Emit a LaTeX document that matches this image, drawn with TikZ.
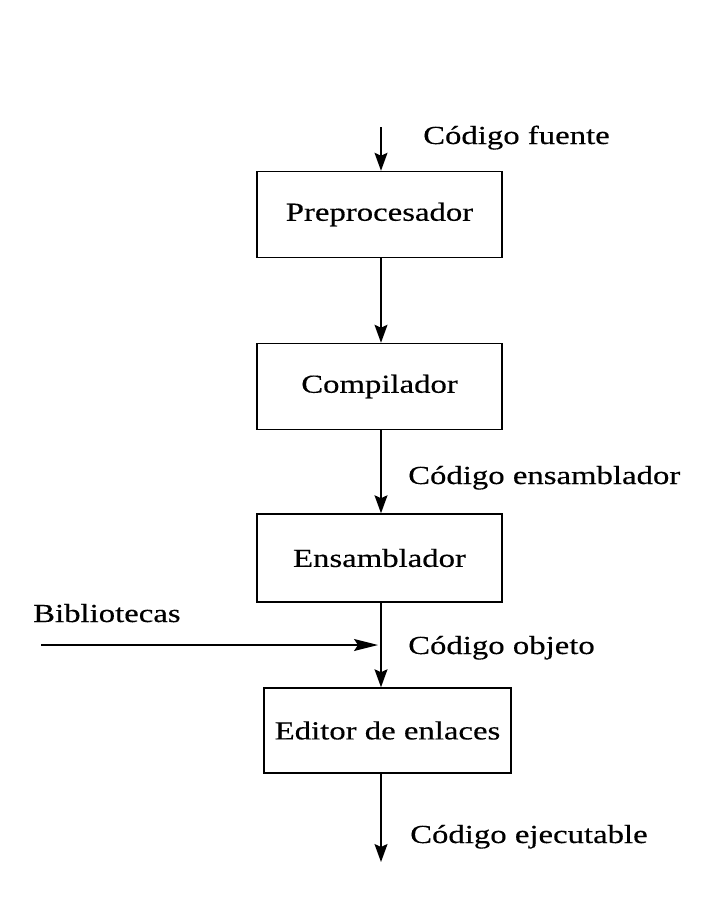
\documentclass[tikz,border=0pt]{standalone}
\usepackage{fontspec}
\setmainfont[FakeStretch=1.26,FakeBold=0.4]{Liberation Serif}
\usetikzlibrary{arrows.meta}
\begin{document}
\begin{tikzpicture}[x=1pt,y=-1pt,
  stagebox/.style={draw=black,line width=1.5pt,minimum width=245pt,minimum height=86pt,inner sep=0pt,font=\fontsize{26}{31}\selectfont},
  lbl/.style={anchor=base west,inner sep=0pt,font=\fontsize{26}{31}\selectfont},
  arr/.style={line width=1.5pt,-{Stealth[length=18pt,width=13pt,inset=3pt]}},
  harr/.style={line width=1.5pt,-{Stealth[length=24pt,width=12pt,inset=4pt]}}]
\useasboundingbox[fill=white] (0,0) rectangle (718,910);
\node[stagebox] (pre) at (379.5,214.5) {Preprocesador};
\node[stagebox] (comp) at (379.5,386.5) {Compilador};
\node[stagebox,minimum height=88pt] (ens) at (379.5,558) {Ensamblador};
\node[stagebox,minimum width=247pt,minimum height=85pt] (edit) at (387.5,730.5) {Editor de enlaces};
\coordinate (ax) at (381,0);
\coordinate (src) at (381,127);
\coordinate (out) at (381,862);
\coordinate (libstart) at (41,645);
\coordinate (libend) at (378,645);
\draw[arr] (src) -- (pre.north -| ax);
\draw[arr] (pre.south -| ax) -- (comp.north -| ax);
\draw[arr] (comp.south -| ax) -- (ens.north -| ax);
\draw[arr] (ens.south -| ax) -- (edit.north -| ax);
\draw[arr] (edit.south -| ax) -- (out);
\draw[harr] (libstart) -- (libend);
\node[lbl] (l1) at (423,144) {Código fuente};
\node[lbl] (l2) at (408,484) {Código ensamblador};
\node[lbl] (l3) at (408,654) {Código objeto};
\node[lbl] (l4) at (410,843) {Código ejecutable};
\node[lbl] (l5) at (33,622) {Bibliotecas};
\end{tikzpicture}
\end{document}
